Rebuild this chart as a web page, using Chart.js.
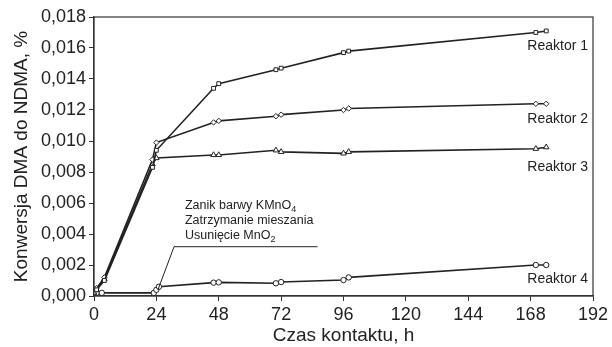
<!DOCTYPE html>
<html>
<head>
<meta charset="utf-8">
<script src="https://cdn.jsdelivr.net/npm/chart.js@4"></script>
<style>
  html, body { margin: 0; padding: 0; background: #fff; }
  #wrap { width: 612px; height: 347px; }
</style>
</head>
<body>
<div id="wrap"><canvas id="wykres"></canvas></div>
<script>
// czas kontaktu, h (punkty podwojne jak na oryginale)
const czasR1 = [0, 1, 4, 22.5, 24, 46, 48, 70, 72, 96, 98, 170, 174];
const czasR4 = [0, 1, 3, 23, 24, 25, 46, 48, 70, 72, 96, 98, 170, 174];

const reaktor1 = [0.0002, 0.0004, 0.0010, 0.0083, 0.0094, 0.0134, 0.0137, 0.0146, 0.0147, 0.0157, 0.0158, 0.0170, 0.0171];
const reaktor2 = [0.0003, 0.0005, 0.0012, 0.0088, 0.0099, 0.0112, 0.0113, 0.0116, 0.0117, 0.0120, 0.0121, 0.0124, 0.0124];
const reaktor3 = [0.0002, 0.0004, 0.0011, 0.0085, 0.0089, 0.0091, 0.0091, 0.0094, 0.0093, 0.0092, 0.0093, 0.0095, 0.0096];
const reaktor4 = [0.0003, 0.0002, 0.0002, 0.0002, 0.0004, 0.0006, 0.00086, 0.00088, 0.00082, 0.0009, 0.00103, 0.0012, 0.0020, 0.0020];

const etykiety = ['Reaktor 1', 'Reaktor 2', 'Reaktor 3', 'Reaktor 4'];
const ticksX = [0, 24, 48, 72, 96, 120, 144, 168, 192];
const adnotacja = ['Zanik barwy KMnO|4', 'Zatrzymanie mieszania', 'Usunięcie MnO|2'];

const FONT = '"Liberation Sans", Arial, sans-serif';
const KOLOR = '#222';

function punkty(xs, ys) {
  return xs.map((x, i) => ({ x: x, y: ys[i] }));
}

function seria(label, xs, ys, styl) {
  return {
    label: label,
    data: punkty(xs, ys),
    showLine: true,
    borderColor: KOLOR,
    borderWidth: 1.6,
    pointStyle: styl,
    pointRadius: styl === 'triangle' ? 3.2 : 2.7,
    pointBorderWidth: 1,
    pointBackgroundColor: '#fff',
    pointBorderColor: KOLOR
  };
}

// ramka, podpisy reaktorow i adnotacja
const dodatki = {
  id: 'dodatki',
  afterDatasetsDraw(chart) {
    const ctx = chart.ctx;
    const a = chart.chartArea;
    const sx = chart.scales.x, sy = chart.scales.y;
    ctx.save();
    ctx.strokeStyle = '#333';
    ctx.lineWidth = 1.2;
    ctx.strokeRect(a.left, a.top, a.right - a.left, a.bottom - a.top);

    // podpisy serii
    ctx.fillStyle = KOLOR;
    ctx.font = '14px ' + FONT;
    ctx.textAlign = 'right';
    ctx.textBaseline = 'middle';
    const poz = [0.0161, 0.0114, 0.0083, 0.0011];
    etykiety.forEach((t, i) => {
      ctx.fillText(t, a.right - 5, sy.getPixelForValue(poz[i]));
    });

    // adnotacja
    ctx.textAlign = 'left';
    const tx = sx.getPixelForValue(35);
    const linie = [0.00584, 0.00487, 0.0039];
    adnotacja.forEach((t, i) => {
      const y = sy.getPixelForValue(linie[i]);
      const [g, s] = t.split('|');
      ctx.font = '12.5px ' + FONT;
      ctx.fillText(g, tx, y);
      if (s) {
        const w = ctx.measureText(g).width;
        ctx.font = '9px ' + FONT;
        ctx.fillText(s, tx + w, y + 4);
      }
    });
    ctx.strokeStyle = KOLOR;
    ctx.lineWidth = 1;
    ctx.beginPath();
    ctx.moveTo(sx.getPixelForValue(24.6), sy.getPixelForValue(0.0004));
    ctx.lineTo(sx.getPixelForValue(30.8), sy.getPixelForValue(0.00318));
    ctx.lineTo(sx.getPixelForValue(86), sy.getPixelForValue(0.00318));
    ctx.stroke();
    ctx.restore();
  }
};

new Chart(document.getElementById('wykres'), {
  type: 'scatter',
  data: {
    datasets: [
      seria(etykiety[0], czasR1, reaktor1, 'rect'),
      seria(etykiety[1], czasR1, reaktor2, 'rectRot'),
      seria(etykiety[2], czasR1, reaktor3, 'triangle'),
      seria(etykiety[3], czasR4, reaktor4, 'circle')
    ]
  },
  options: {
    responsive: true,
    maintainAspectRatio: false,
    animation: false,
    layout: { padding: { left: 0, right: 19, top: 17, bottom: 0 } },
    plugins: { legend: { display: false }, tooltip: { enabled: false } },
    scales: {
      x: {
        type: 'linear',
        min: 0, max: 192,
        afterBuildTicks: (s) => { s.ticks = ticksX.map(v => ({ value: v })); },
        afterFit: (s) => { s.height = 51; },
        grid: { drawOnChartArea: false, drawTicks: true, tickLength: 5, tickColor: '#333' },
        border: { color: '#333', width: 1.2 },
        ticks: { color: KOLOR, font: { family: FONT, size: 18 }, padding: 3, maxRotation: 0 },
        title: { display: true, text: 'Czas kontaktu, h', color: KOLOR, font: { family: FONT, size: 19 }, padding: { top: 0, bottom: 0 } }
      },
      y: {
        min: 0, max: 0.018,
        afterFit: (s) => { s.width = 94; },
        grid: { drawOnChartArea: false, drawTicks: true, tickLength: 5, tickColor: '#333' },
        border: { color: '#333', width: 1.2 },
        ticks: {
          stepSize: 0.002,
          color: KOLOR,
          font: { family: FONT, size: 18 },
          padding: 3,
          callback: (v) => v.toFixed(3).replace('.', ',')
        },
        title: { display: true, text: 'Konwersja DMA do NDMA, %', color: KOLOR, font: { family: FONT, size: 19 }, padding: { top: 10, bottom: 0 } }
      }
    }
  },
  plugins: [dodatki]
});
</script>
</body>
</html>
